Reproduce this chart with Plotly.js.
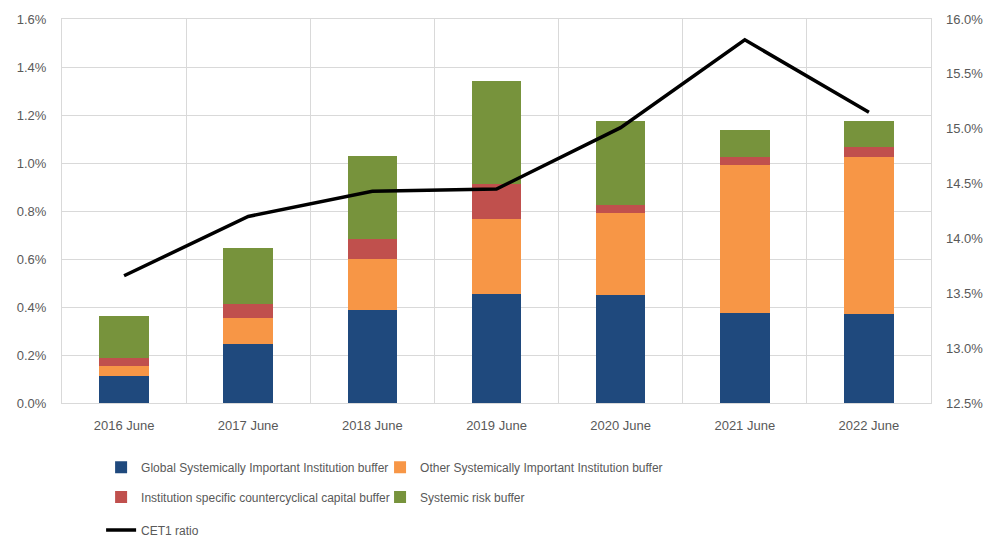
<!DOCTYPE html>
<html>
<head>
<meta charset="utf-8">
<script src="https://cdn.plot.ly/plotly-3.0.1.min.js"></script>
<style>html,body{margin:0;padding:0;background:#fff;}#chart{width:994px;height:538px;}</style>
</head>
<body>
<div id="chart"></div>
<script>
var categories = ["2016 June", "2017 June", "2018 June", "2019 June", "2020 June", "2021 June", "2022 June"];
var gsiiBuffer = [0.111, 0.246, 0.386, 0.455, 0.448, 0.373, 0.369];
var osiiBuffer = [0.042, 0.108, 0.212, 0.310, 0.342, 0.617, 0.656];
var ccybBuffer = [0.035, 0.060, 0.087, 0.149, 0.033, 0.036, 0.040];
var srbBuffer = [0.174, 0.232, 0.345, 0.426, 0.353, 0.111, 0.111];
var cet1Ratio = [13.66, 14.20, 14.43, 14.45, 15.01, 15.81, 15.15];

var FONT = "Liberation Sans, Arial, sans-serif";
var TXT = "#595959";
var GRID = "#d9d9d9";

var traces = [
  {type:"bar", name:"Global Systemically Important Institution buffer", x:categories, y:gsiiBuffer,
   marker:{color:"#1f497d"}, legend:"legend", hoverinfo:"y"},
  {type:"bar", name:"Other Systemically Important Institution buffer", x:categories, y:osiiBuffer,
   marker:{color:"#f79646"}, legend:"legend2", hoverinfo:"y"},
  {type:"bar", name:"Institution specific countercyclical capital buffer", x:categories, y:ccybBuffer,
   marker:{color:"#c0504d"}, legend:"legend3", hoverinfo:"y"},
  {type:"bar", name:"Systemic risk buffer", x:categories, y:srbBuffer,
   marker:{color:"#77933c"}, legend:"legend4", hoverinfo:"y"},
  {type:"scatter", mode:"lines", name:"CET1 ratio", x:categories, y:cet1Ratio, yaxis:"y2",
   line:{color:"#000000", width:3.5}, legend:"legend5"}
];

var legendBase = {orientation:"h", xanchor:"left", yanchor:"middle",
  font:{family:FONT, size:12, color:TXT}, bgcolor:"rgba(0,0,0,0)"};
var col1 = 0.045, col2 = 0.366;

var layout = {
  width:994, height:538,
  margin:{l:62, r:63, t:19, b:135, autoexpand:false},
  paper_bgcolor:"#ffffff", plot_bgcolor:"#ffffff",
  barmode:"stack", bargap:0.6,
  font:{family:FONT, size:13, color:TXT},
  showlegend:true,
  xaxis:{type:"category", tickson:"boundaries", showgrid:true, gridcolor:GRID, gridwidth:1,
    ticks:"", ticklabelstandoff:10, showline:true, linecolor:GRID, mirror:true, tickfont:{family:FONT, size:13, color:TXT}},
  yaxis:{range:[0,1.6], dtick:0.2, tickformat:".1f", ticksuffix:"%", showgrid:true, gridcolor:GRID,
    zeroline:false, showline:true, linecolor:GRID, mirror:true, ticks:"", ticklabelstandoff:12, tickfont:{family:FONT, size:13, color:TXT}},
  yaxis2:{range:[12.5,16], dtick:0.5, tickformat:".1f", ticksuffix:"%", overlaying:"y", side:"right",
    showgrid:false, zeroline:false, ticks:"", ticklabelstandoff:14, tickfont:{family:FONT, size:13, color:TXT}},
  legend: Object.assign({}, legendBase, {x:col1, y:-0.167}),
  legend2: Object.assign({}, legendBase, {x:col2, y:-0.167}),
  legend3: Object.assign({}, legendBase, {x:col1, y:-0.245}),
  legend4: Object.assign({}, legendBase, {x:col2, y:-0.245}),
  legend5: Object.assign({}, legendBase, {x:col1, y:-0.331})
};

Plotly.newPlot("chart", traces, layout, {displayModeBar:false, staticPlot:true});
</script>
</body>
</html>
